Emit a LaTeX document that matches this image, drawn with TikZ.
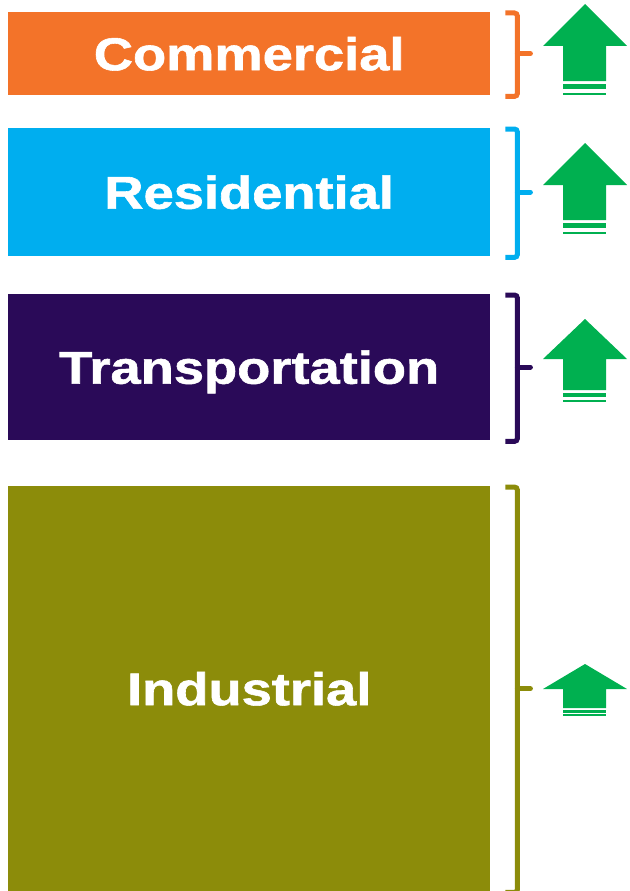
\documentclass[tikz,border=0pt]{standalone}
\usepackage{fontspec}
\setmainfont{Liberation Sans}[BoldFeatures={FakeBold=1.2}]
\usepackage{xcolor}
\usetikzlibrary{calc}
\definecolor{comm}{HTML}{F37329}
\definecolor{resi}{HTML}{00AEEF}
\definecolor{trans}{HTML}{2A0A58}
\definecolor{indus}{HTML}{8C8C0A}
\definecolor{upgreen}{HTML}{00B050}
\tikzset{
  sector/.style={draw=none, inner sep=0pt, anchor=north west, minimum width=482pt,
    text=white, text height=33pt, text depth=0pt,
    font=\bfseries\fontsize{46}{46}\selectfont},
  bracket/.style={line width=5pt, rounded corners=3pt},
  tickline/.style={line width=5pt, line cap=round},
  upfill/.style={fill=upgreen}
}
\newcommand{\widelbl}[1]{\scalebox{1.18}[1]{#1}}
\newcommand{\sectorbrace}[2]{%
  \draw[bracket, #2] ($(#1.north east)+(15,1)$) -| ($(#1.south east)+(27,1)$) -- ++(-12,0);
  \draw[tickline, #2] ($(#1.east)+(27,0)$) -- ++(13,0);
}

\begin{document}
\begin{tikzpicture}[x=1pt, y=-1pt]
  \useasboundingbox (0,0) rectangle (629,891);

  % sectors
  \node[sector, fill=comm, minimum height=83pt] (com) at (8,12) {\widelbl{Commercial}};
  \node[sector, fill=resi, minimum height=128pt] (res) at (8,128) {\widelbl{Residential}};
  \node[sector, fill=trans, minimum height=146pt] (tra) at (8,294) {\widelbl{Transportation}};
  \node[sector, fill=indus, minimum height=405pt] (ind) at (8,486) {\widelbl{Industrial}};

  % brackets
  \sectorbrace{com}{comm}
  \sectorbrace{res}{resi}
  \sectorbrace{tra}{trans}
  \sectorbrace{ind}{indus}

  % growth arrows
  \foreach \tip/\base/\bot in {4/46/81, 143/185/220, 319/359/390, 664/689/708} {
    \fill[upfill] (585,\tip) -- (627,\base) -- (606,\base) -- (606,\bot)
      -- (563,\bot) -- (563,\base) -- (543,\base) -- cycle;
    \fill[upfill] (563,{\bot+0.09*(\bot-\base)}) rectangle (606,{\bot+0.24*(\bot-\base)});
    \fill[upfill] (563,{\bot+0.33*(\bot-\base)}) rectangle (606,{\bot+0.40*(\bot-\base)});
  }
\end{tikzpicture}
\end{document}
